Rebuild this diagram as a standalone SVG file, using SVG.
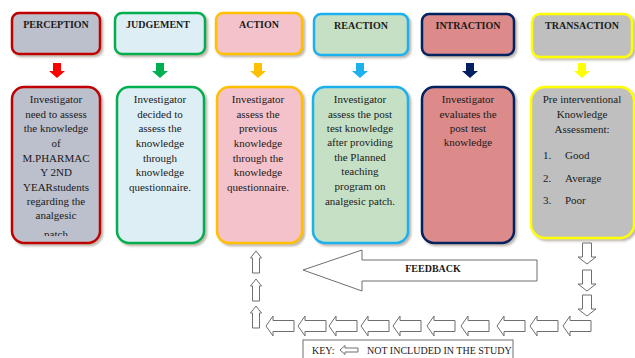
<svg xmlns="http://www.w3.org/2000/svg" width="635" height="358" viewBox="0 0 635 358">
<defs>
<filter id="sh" x="-10%" y="-10%" width="130%" height="130%">
<feDropShadow dx="2" dy="2" stdDeviation="1" flood-color="#7a6a5a" flood-opacity="0.5"/>
</filter>
<clipPath id="clipP"><rect x="12" y="88" width="88" height="148"/></clipPath>
<path id="la" d="M0,0 l7,-10 v4.5 h21 v11 h-21 v4.5 z"/>
<path id="ua" d="M0,0 l5.5,7 h-2 v15 h-7 v-15 h-2 z"/>
<path id="da" d="M0,0 l9,-7 h-4.5 v-14 h-9 v14 h-4.5 z"/>
</defs>
<style>
.hd{font-family:"Liberation Serif","Times New Roman",serif;font-weight:bold;font-size:10px;text-anchor:middle;fill:#1a1a1a}
.bt{font-family:"Liberation Serif","Times New Roman",serif;font-size:11px;text-anchor:middle;fill:#1a1a1a}
.lt{font-family:"Liberation Serif","Times New Roman",serif;font-size:11px;fill:#1a1a1a}
.box{stroke-width:2.5;filter:url(#sh)}
.oa{fill:#ffffff;stroke:#6e6e6e;stroke-width:1}
.kt{font-family:"Liberation Serif","Times New Roman",serif;font-size:10px;fill:#1a1a1a}
</style>

<g id="perception">
<rect class="box" x="12" y="13" width="88" height="41" rx="7" fill="#bcbfcc" stroke="#c00000"/>
<text class="hd" x="56" y="28">PERCEPTION</text>
<path d="M53,63 h8 v8 h4 l-8,7 l-8,-7 h4 z" fill="#ff0000"/>
<rect class="box" x="12" y="87" width="88" height="156" rx="12" fill="#bcbfcc" stroke="#c00000"/>
<g clip-path="url(#clipP)">
<text class="bt" x="56" y="103">Investigator</text>
<text class="bt" x="56" y="117.5">need to assess</text>
<text class="bt" x="56" y="132">the knowledge</text>
<text class="bt" x="56" y="147">of</text>
<text class="bt" x="56" y="161.5">M.PHARMAC</text>
<text class="bt" x="56" y="176">Y 2ND</text>
<text class="bt" x="56" y="190.5">YEARstudents</text>
<text class="bt" x="56" y="205">regarding the</text>
<text class="bt" x="56" y="219">analgesic</text>
<text class="bt" x="56" y="238">patch</text>
</g>
</g>

<g id="judgement">
<rect class="box" x="115" y="13" width="90" height="41" rx="7" fill="#deeef5" stroke="#00b050"/>
<text class="hd" x="158" y="28">JUDGEMENT</text>
<path d="M156,63 h8 v8 h4 l-8,7 l-8,-7 h4 z" fill="#00b050"/>
<rect class="box" x="117" y="87" width="87" height="156" rx="12" fill="#deeef5" stroke="#00b050"/>
<text class="bt" x="160" y="103">Investigator</text>
<text class="bt" x="160" y="117.5">decided to</text>
<text class="bt" x="160" y="132">assess the</text>
<text class="bt" x="160" y="147">knowledge</text>
<text class="bt" x="160" y="161.5">through</text>
<text class="bt" x="160" y="176">knowledge</text>
<text class="bt" x="160" y="190.5">questionnaire.</text>
</g>

<g id="action">
<rect class="box" x="216" y="13" width="86" height="41" rx="7" fill="#f4c2cb" stroke="#ffc000"/>
<text class="hd" x="259" y="28">ACTION</text>
<path d="M254,63 h8 v8 h4 l-8,7 l-8,-7 h4 z" fill="#ffc000"/>
<rect class="box" x="217" y="87" width="85" height="156" rx="12" fill="#f4c2cb" stroke="#ffc000"/>
<text class="bt" x="258" y="103">Investigator</text>
<text class="bt" x="258" y="117.5">assess the</text>
<text class="bt" x="258" y="132">previous</text>
<text class="bt" x="258" y="147">knowledge</text>
<text class="bt" x="258" y="161.5">through the</text>
<text class="bt" x="258" y="176">knowledge</text>
<text class="bt" x="258" y="190.5">questionnaire.</text>
</g>

<g id="reaction">
<rect class="box" x="314" y="14" width="94" height="41" rx="7" fill="#c5e0c5" stroke="#1cb0ec"/>
<text class="hd" x="361" y="29">REACTION</text>
<path d="M356,63 h8 v8 h4 l-8,7 l-8,-7 h4 z" fill="#1cb0ec"/>
<rect class="box" x="313" y="87" width="95" height="156" rx="12" fill="#c5e0c5" stroke="#1cb0ec"/>
<text class="bt" x="360" y="103">Investigator</text>
<text class="bt" x="360" y="117.5">assess the post</text>
<text class="bt" x="360" y="132">test knowledge</text>
<text class="bt" x="360" y="146">after providing</text>
<text class="bt" x="360" y="160.5">the Planned</text>
<text class="bt" x="360" y="175">teaching</text>
<text class="bt" x="360" y="189.5">program on</text>
<text class="bt" x="360" y="205">analgesic patch.</text>
</g>

<g id="intraction">
<rect class="box" x="422" y="14" width="92" height="41" rx="7" fill="#dc8a8a" stroke="#002060"/>
<text class="hd" x="468" y="29">INTRACTION</text>
<path d="M466,63 h8 v8 h4 l-8,7 l-8,-7 h4 z" fill="#002060"/>
<rect class="box" x="422" y="87" width="92" height="156" rx="12" fill="#dc8a8a" stroke="#002060"/>
<text class="bt" x="468" y="103">Investigator</text>
<text class="bt" x="468" y="117.5">evaluates the</text>
<text class="bt" x="468" y="132">post test</text>
<text class="bt" x="468" y="146">knowledge</text>
</g>

<g id="transaction">
<rect class="box" x="532" y="14" width="100" height="43" rx="8" fill="#bfbfbf" stroke="#ffff00"/>
<text class="hd" x="582" y="29">TRANSACTION</text>
<path d="M578,63 h8 v8 h4 l-8,7 l-8,-7 h4 z" fill="#ffff00"/>
<rect class="box" x="531" y="87" width="103" height="151" rx="14" fill="#bfbfbf" stroke="#ffff00"/>
<text class="bt" x="582" y="103">Pre interventional</text>
<text class="bt" x="582" y="118">Knowledge</text>
<text class="bt" x="582" y="133">Assessment:</text>
<text class="lt" x="543" y="159">1.</text><text class="lt" x="565" y="159">Good</text>
<text class="lt" x="543" y="182">2.</text><text class="lt" x="565" y="182">Average</text>
<text class="lt" x="543" y="204">3.</text><text class="lt" x="565" y="204">Poor</text>
</g>

<g id="feedback">
<path class="oa" d="M303,270 L362,250 V260 H537 V281 H362 V291 Z"/>
<text class="hd" x="433" y="272">FEEDBACK</text>
</g>

<g id="connectors">
<use href="#da" class="oa" x="587" y="264"/>
<use href="#da" class="oa" x="587" y="291"/>
<use href="#da" class="oa" x="587" y="316"/>
<use href="#la" class="oa" x="563" y="326"/>
<use href="#la" class="oa" x="530" y="326"/>
<use href="#la" class="oa" x="497" y="326"/>
<use href="#la" class="oa" x="461" y="326"/>
<use href="#la" class="oa" x="427" y="326"/>
<use href="#la" class="oa" x="393" y="326"/>
<use href="#la" class="oa" x="361" y="326"/>
<use href="#la" class="oa" x="329" y="326"/>
<use href="#la" class="oa" x="298" y="326"/>
<use href="#la" class="oa" x="266" y="326"/>
<use href="#ua" class="oa" x="256" y="306"/>
<use href="#ua" class="oa" x="256" y="279"/>
<use href="#ua" class="oa" x="256" y="251"/>
</g>

<g id="key">
<rect x="303" y="340" width="210" height="22" fill="#ffffff" stroke="#6e6e6e" stroke-width="1"/>
<text class="kt" x="312" y="354">KEY:</text>
<path class="oa" d="M340,350 l5,-4.5 v2.5 h13 v4 h-13 v2.5 z"/>
<text class="kt" x="367" y="354">NOT INCLUDED IN THE STUDY</text>
</g>
</svg>
